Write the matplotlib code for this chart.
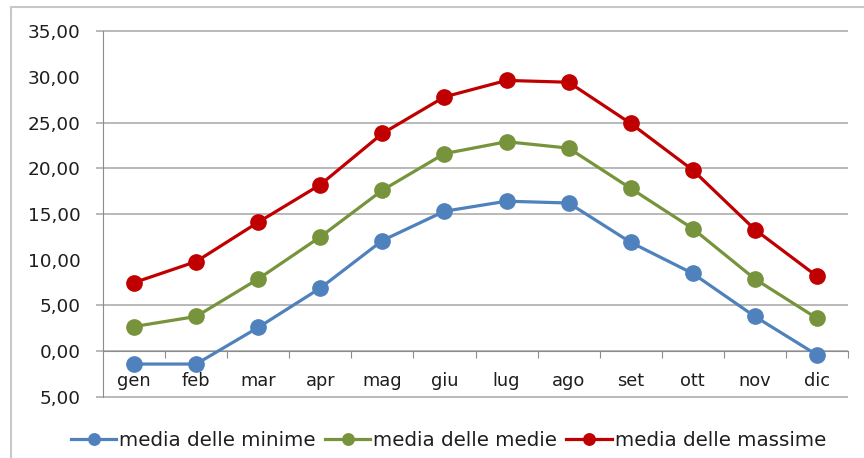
import matplotlib.pyplot as plt
from matplotlib.patches import Rectangle

# monthly temperature averages (°C)
mesi = ["gen", "feb", "mar", "apr", "mag", "giu", "lug", "ago", "set", "ott", "nov", "dic"]
media_minime = [-1.4, -1.4, 2.6, 6.9, 12.1, 15.3, 16.4, 16.2, 11.9, 8.5, 3.8, -0.4]
media_medie = [2.7, 3.8, 7.9, 12.5, 17.6, 21.6, 22.9, 22.2, 17.8, 13.4, 7.9, 3.6]
media_massime = [7.5, 9.8, 14.1, 18.2, 23.8, 27.8, 29.6, 29.4, 24.9, 19.8, 13.3, 8.2]

y_ticks = [-5, 0, 5, 10, 15, 20, 25, 30, 35]
y_labels = ["5,00", "0,00", "5,00", "10,00", "15,00", "20,00", "25,00", "30,00", "35,00"]
grid_levels = [-5, 0, 5, 15, 20, 25, 35]

plt.rcParams['font.family'] = ['DejaVu Sans']

fig = plt.figure(figsize=(8.64, 4.58), dpi=100)
ax = fig.add_axes([0.1192, 0.1332, 0.8623, 0.7991])

x = list(range(len(mesi)))
series = [
    ("media delle minime", media_minime, "#4F81BD"),
    ("media delle medie", media_medie, "#77933C"),
    ("media delle massime", media_massime, "#C00000"),
]
for label, vals, col in series:
    ax.plot(x, vals, color=col, lw=2.3, marker='o', markersize=11,
            label=label, zorder=3)

ax.set_xlim(-0.5, len(mesi) - 0.5)
ax.set_ylim(-5, 35)

# horizontal grid lines, running a little past the left axis like tick marks
ax.hlines(grid_levels, -0.61, len(mesi) - 0.5, colors='#a6a6a6', lw=1.1,
          clip_on=False, zorder=1)

ax.set_yticks(y_ticks)
ax.set_yticklabels(y_labels)
ax.tick_params(axis='y', length=0, pad=16, labelsize=13.3, labelcolor='#1e1e1e')

# category axis sits on zero, ticks between months
ax.spines['bottom'].set_position(('data', 0))
ax.spines['bottom'].set_color('#8c8c8c')
ax.set_xticks([i + 0.5 for i in x])
ax.set_xticklabels([])
ax.set_xticks(x, minor=True)
ax.set_xticklabels(mesi, minor=True)
ax.tick_params(axis='x', which='major', direction='out', length=5, color='#8c8c8c')
ax.tick_params(axis='x', which='minor', length=0, pad=15, labelsize=12.8,
               labelcolor='#1e1e1e')

ax.spines['left'].set_color('#8c8c8c')
ax.spines['top'].set_visible(False)
ax.spines['right'].set_visible(False)

fig.legend(loc='center', bbox_to_anchor=(0.519, 0.039), ncol=3, frameon=False,
           fontsize=14.3, handlelength=2.3, handletextpad=0.15, columnspacing=0.45,
           markerscale=0.75, labelcolor='#1e1e1e')

# chart area border
fig.add_artist(Rectangle((0.0127, -0.2), 1.2, 1.1847, transform=fig.transFigure,
                         fill=False, edgecolor='#c8c8c8', lw=1.5))

fig.savefig("out.png", dpi=100)
